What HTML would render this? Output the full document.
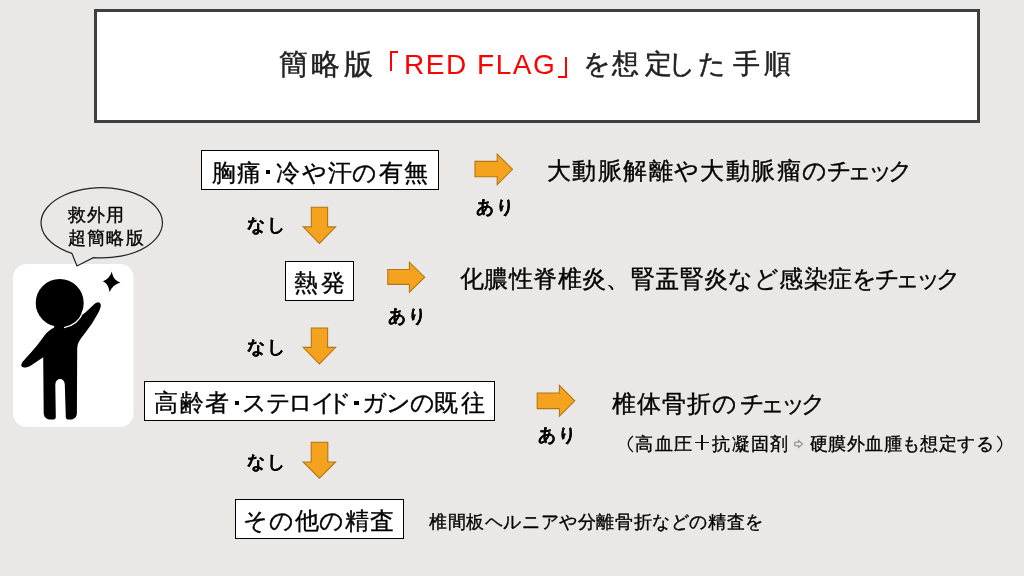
<!DOCTYPE html>
<html lang="ja">
<head>
<meta charset="utf-8">
<style>
html,body{margin:0;padding:0;}
body{width:1024px;height:576px;overflow:hidden;position:relative;background:#E9E8E6;font-family:"Liberation Sans",sans-serif;color:#000;}
.t{position:absolute;white-space:nowrap;line-height:1;will-change:transform;-webkit-text-stroke:0.35px currentColor;}
.box{position:absolute;box-sizing:border-box;background:#fff;border:1px solid #000;}
svg{position:absolute;left:0;top:0;}
</style>
</head>
<body>
<!-- title box -->
<div class="box" style="left:94px;top:9px;width:886px;height:114px;border:3px solid #3F3F3F;"></div>
<div class="t" style="left:279px;top:49.5px;font-size:29px;color:#222;letter-spacing:3.4px;-webkit-text-stroke:0.45px #222;">簡略版</div>
<div style="position:absolute;left:389.7px;top:50.6px;width:6.2px;height:18.9px;border-left:2.5px solid #FF0000;border-top:2.2px solid #FF0000;"></div>
<div class="t" style="left:404px;top:50.6px;font-size:28px;color:#FF0000;letter-spacing:1.55px;-webkit-text-stroke:0;">RED FLAG</div>
<div style="position:absolute;left:558.2px;top:56.8px;width:6.6px;height:18.8px;border-right:2.3px solid #FF0000;border-bottom:2px solid #FF0000;"></div>
<div class="t" style="left:583.4px;top:51.2px;font-size:27px;color:#222;-webkit-text-stroke:0.5px #222;">を</div>
<div class="t" style="left:612.3px;top:51.2px;font-size:27px;color:#222;-webkit-text-stroke:0.5px #222;">想</div>
<div class="t" style="left:644.5px;top:51.2px;font-size:27px;color:#222;-webkit-text-stroke:0.5px #222;">定</div>
<div class="t" style="left:667.5px;top:51.2px;font-size:27px;color:#222;-webkit-text-stroke:0.5px #222;">し</div>
<div class="t" style="left:698.3px;top:51.2px;font-size:27px;color:#222;-webkit-text-stroke:0.5px #222;">た</div>
<div class="t" style="left:733.1px;top:51.2px;font-size:27px;color:#222;-webkit-text-stroke:0.5px #222;">手</div>
<div class="t" style="left:763.5px;top:51.2px;font-size:27px;color:#222;-webkit-text-stroke:0.5px #222;">順</div>

<!-- boxes -->
<div class="box" style="left:201px;top:150px;width:238px;height:40px;"></div>
<div class="t" style="left:212.3px;top:161px;font-size:24px;">胸</div>
<div class="t" style="left:237.2px;top:161px;font-size:24px;">痛</div>
<div style="position:absolute;left:265.9px;top:169.6px;width:4.1px;height:4.1px;background:#000;"></div>
<div class="t" style="left:275.5px;top:161px;font-size:24px;">冷</div>
<div class="t" style="left:302.2px;top:161px;font-size:24px;">や</div>
<div class="t" style="left:327.7px;top:161px;font-size:24px;">汗</div>
<div class="t" style="left:352.4px;top:161px;font-size:24px;">の</div>
<div class="t" style="left:378.8px;top:161px;font-size:24px;">有</div>
<div class="t" style="left:403.8px;top:161px;font-size:24px;">無</div>

<div class="box" style="left:285px;top:261px;width:69px;height:40px;"></div>
<div class="t" style="left:294px;top:271px;font-size:24px;letter-spacing:2.5px;">熱発</div>

<div class="box" style="left:144px;top:381px;width:351px;height:40px;"></div>
<div class="t" style="left:153.7px;top:391px;font-size:24px;">高</div>
<div class="t" style="left:179.7px;top:391px;font-size:24px;">齢</div>
<div class="t" style="left:205.25px;top:391px;font-size:24px;">者</div>
<div style="position:absolute;left:235px;top:401.4px;width:4.3px;height:4.1px;background:#000;"></div>
<div class="t" style="left:242.4px;top:391px;font-size:24px;">ス</div>
<div class="t" style="left:265.7px;top:391px;font-size:24px;">テ</div>
<div class="t" style="left:288px;top:391px;font-size:24px;">ロ</div>
<div class="t" style="left:311px;top:391px;font-size:24px;">イ</div>
<div class="t" style="left:326.6px;top:391px;font-size:24px;">ド</div>
<div style="position:absolute;left:354.3px;top:401.4px;width:4.3px;height:4.1px;background:#000;"></div>
<div class="t" style="left:362.2px;top:391px;font-size:24px;">ガ</div>
<div class="t" style="left:385.6px;top:391px;font-size:24px;">ン</div>
<div class="t" style="left:410px;top:391px;font-size:24px;">の</div>
<div class="t" style="left:434.4px;top:391px;font-size:24px;">既</div>
<div class="t" style="left:460.5px;top:391px;font-size:24px;">往</div>

<div class="box" style="left:235px;top:499px;width:169px;height:40px;"></div>
<div class="t" style="left:243.3px;top:509px;font-size:24px;letter-spacing:0.8px;">その他の精査</div>

<!-- right texts -->
<div class="t" style="left:547px;top:159px;font-size:24px;letter-spacing:1.4px;">大動脈解離や大動脈瘤の</div>
<div class="t" style="left:826.5px;top:159px;font-size:24px;letter-spacing:-4.6px;">チェック</div>
<div class="t" style="left:460px;top:267px;font-size:24px;letter-spacing:0.4px;">化膿性脊椎炎、腎盂腎炎など感染症を</div>
<div class="t" style="left:875px;top:267px;font-size:24px;letter-spacing:-4.6px;">チェック</div>
<div class="t" style="left:612px;top:392px;font-size:24px;letter-spacing:1px;">椎体骨折の</div>
<div class="t" style="left:740px;top:392px;font-size:24px;letter-spacing:-4.6px;">チェック</div>
<div class="t" style="left:616px;top:435px;font-size:18px;letter-spacing:1.3px;">　高血圧　抗凝固剤</div>
<div style="position:absolute;left:694.9px;top:441.8px;width:14.2px;height:1.7px;background:#111;"></div>
<div style="position:absolute;left:701.2px;top:435.1px;width:1.7px;height:15.2px;background:#111;"></div>
<svg style="position:absolute;left:790px;top:436px;" width="16" height="16" viewBox="790 436 16 16"><path d="M794.8,442.3 L798.6,442.3 L798.6,440.6 L802.6,444 L798.6,447.4 L798.6,445.7 L794.8,445.7 Z" fill="none" stroke="#8A8A8A" stroke-width="1.1" stroke-linejoin="miter"/></svg>
<div class="t" style="left:810px;top:435px;font-size:18px;letter-spacing:0.4px;">硬膜外血腫も想定する</div>
<svg style="position:absolute;left:0;top:0;" width="1024" height="576"><path d="M632.9,436.1 Q623.7,444.1 632.9,452.1 M997.1,436.1 Q1006.3,444.1 997.1,452.1" fill="none" stroke="#111" stroke-width="1.3"/></svg>
<div class="t" style="left:429px;top:513px;font-size:18px;letter-spacing:0.6px;">椎間板ヘルニアや分離骨折などの精査を</div>

<!-- labels -->
<div class="t" style="left:475.8px;top:198px;font-size:18px;font-weight:bold;-webkit-text-stroke:0.12px;letter-spacing:2px;">あり</div>
<div class="t" style="left:388px;top:307px;font-size:18px;font-weight:bold;-webkit-text-stroke:0.12px;letter-spacing:2px;">あり</div>
<div class="t" style="left:537.8px;top:426px;font-size:18px;font-weight:bold;-webkit-text-stroke:0.12px;letter-spacing:2px;">あり</div>
<div class="t" style="left:246.8px;top:216.2px;font-size:18px;font-weight:bold;-webkit-text-stroke:0.12px;letter-spacing:1.5px;">なし</div>
<div class="t" style="left:246.8px;top:338.3px;font-size:18px;font-weight:bold;-webkit-text-stroke:0.12px;letter-spacing:1.5px;">なし</div>
<div class="t" style="left:246.8px;top:453.3px;font-size:18px;font-weight:bold;-webkit-text-stroke:0.12px;letter-spacing:1.5px;">なし</div>


<svg width="1024" height="576" viewBox="0 0 1024 576">
  <g fill="#F5A31F" stroke="#B37712" stroke-width="1.1">
    <polygon points="475,161.4 497.2,161.4 497.2,154 512.5,169.3 497.2,184.6 497.2,176.7 475,176.7"/>
    <polygon points="387.8,269.5 409.4,269.5 409.4,262.2 424.7,277.2 409.4,292.2 409.4,284.4 387.8,284.4"/>
    <polygon points="537.2,393 559.4,393 559.4,385.4 574.7,400.8 559.4,416.2 559.4,408.6 537.2,408.6"/>
    <polygon points="311.3,207.3 327.6,207.3 327.6,226.9 335.6,226.9 319.4,243.5 303.2,226.9 311.3,226.9"/>
    <polygon points="311.3,328 327.6,328 327.6,347.4 335.6,347.4 319.4,364 303.2,347.4 311.3,347.4"/>
    <polygon points="311.2,442.3 327.8,442.3 327.8,462 335.6,462 319.4,478.2 303.2,462 311.2,462"/>
  </g>
  <!-- card -->
  <rect x="13" y="264" width="120.5" height="163" rx="14" ry="14" fill="#fff"/>
  <!-- bubble -->
  <path d="M71.9,253.4 A60.7,35.1 0 1 1 93.3,257.6 L77,266 Z" fill="#E9E8E6" stroke="#222" stroke-width="1.2"/>
  <!-- figure -->
  <path fill="#000" d="M22.3,362.2 C28,356 33,350 37,345.5 L44.5,335.4 C46.5,332.5 50,330 54.1,327.6 L56,312 L80,312 L82.9,314.6 C86,312 90,308 93.9,304.5 C95.5,303 97,302.3 98.3,302.3 C100.3,302.5 101.2,304.5 100.7,306.8 C100,309 99.4,310.6 98.6,312.2 L92,323.6 L84.3,334.1 C81,338.5 78.5,341.5 77.8,344.5 C77.4,346 77.3,348 77.2,350 L77.1,371 L76.9,413 C76.8,417.3 74.3,419.5 70.5,419.5 L67.6,419.5 Q65.9,419.4 65.8,417.3 L64.8,384.5 C64.6,381 62.5,379.1 60.2,379.1 C57.6,379.1 55.5,381 55.3,384.5 L55.8,417.3 Q55.7,419.4 54,419.5 L50.3,419.5 C46.5,419.5 43.9,417.3 43.7,413 L43.2,357.2 L30.6,365.8 C28.5,367 26.5,367.6 24.6,367.6 C22.3,367.6 21,366.5 21.3,364.6 C21.5,363.8 21.8,362.9 22.3,362.2 Z"/>
  <circle cx="59.7" cy="302.9" r="24.0" fill="#000"/>
  <path d="M64.06,327.62 A25.1,25.1 0 0 0 82.97,312.30" fill="none" stroke="#fff" stroke-width="1.4"/>
  <path fill="#000" d="M111.8,271.6 C112.6,277 115.2,281 120.4,282.6 C115.2,284.2 111.6,287.3 109.6,291.9 C108.8,286.7 106.8,283 102.9,281.3 C107.4,279.7 110.6,276.5 111.8,271.6 Z"/>
</svg>
<!-- put bubble text above svg -->
<div class="t" style="left:68px;top:203.5px;font-size:18px;line-height:22.7px;letter-spacing:1.2px;">救外用<br>超簡略版</div>
</body>
</html>
